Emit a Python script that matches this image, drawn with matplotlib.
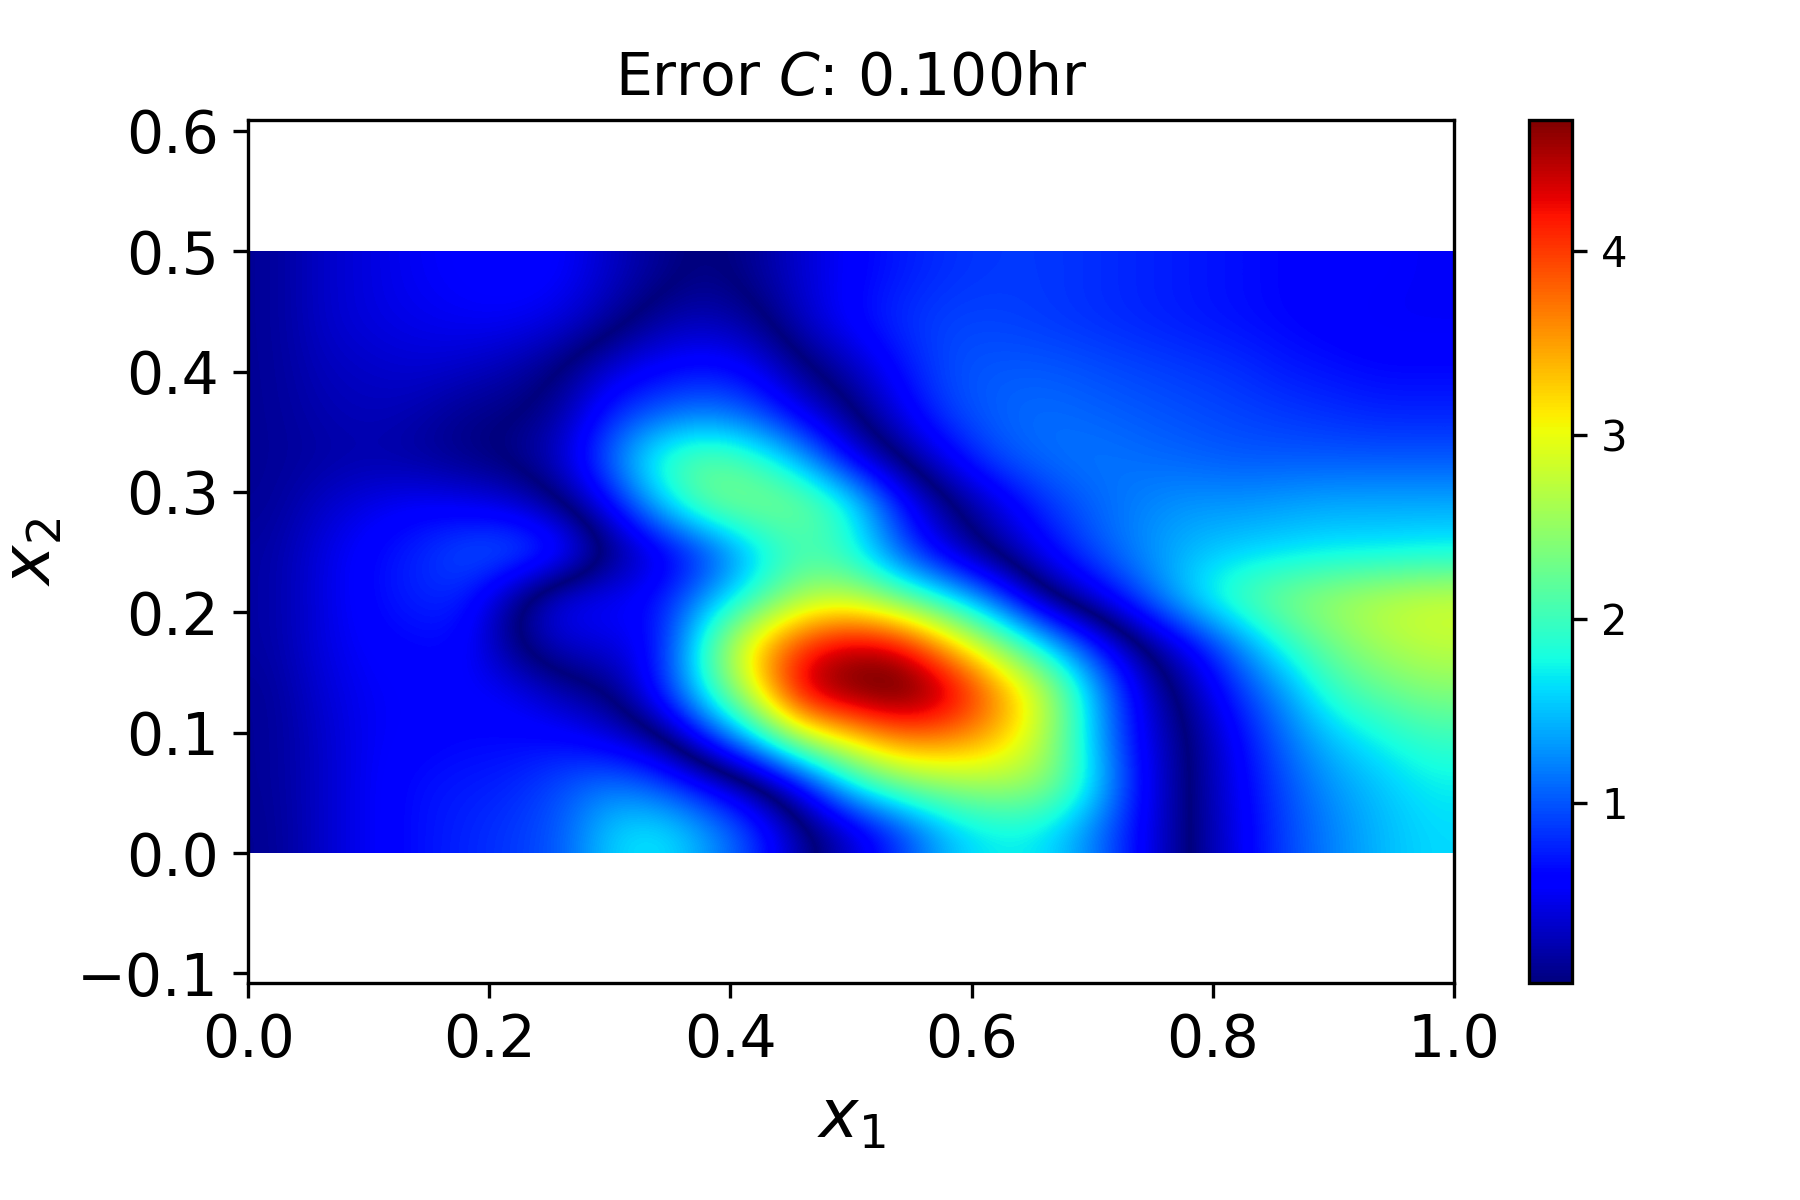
import numpy as np
import matplotlib
matplotlib.use("Agg")
import matplotlib.pyplot as plt
from matplotlib.colors import ListedColormap, Normalize
from matplotlib.cm import ScalarMappable

# signed error (the plotted colour shows its magnitude)
row_481 = [.10,.30,.40,.50,.55,.60,.55,.30,.10,-.05,.10,.35,.55,.70,.80,.85,.85,.80,.75,.70,.65,.60,.55,.55,.50]
row_442 = [.10,.30,.40,.45,.50,.50,.40,.15,-.15,-.25,-.10,.30,.60,.80,.90,.90,.85,.80,.75,.70,.65,.60,.55,.50,.50]
row_404 = [.10,.25,.30,.35,.30,.20,.00,-.35,-.55,-.65,-.50,-.05,.25,.65,.95,1.0,1.0,.95,.90,.85,.80,.70,.65,.60,.60]
row_365 = [.10,.20,.25,.20,.06,.02,-.15,-.75,-1.0,-1.15,-.95,-.45,-.05,.45,.90,1.05,1.10,1.05,1.0,.95,.90,.85,.80,.75,.75]
row_327 = [.10,.15,.18,.12,.03,-.08,-.35,-1.1,-1.95,-2.25,-2.0,-1.4,-.50,0.0,.50,.95,1.10,1.15,1.10,1.05,1.0,1.0,1.0,1.0,1.0]
row_288 = [.10,.30,.45,.55,.50,.40,.05,-.55,-1.45,-2.25,-2.4,-2.35,-1.85,-.75,-.10,.35,.80,1.05,1.20,1.30,1.30,1.35,1.40,1.40,1.40]
row_250 = [.15,.40,.60,.75,1.00,1.10,.85,.05,-.35,-.75,-1.5,-2.0,-1.8,-1.0,-.35,.10,.55,.95,1.25,1.45,1.55,1.60,1.65,1.65,1.70]
row_212 = [.15,.40,.60,.75,.75,.05,-.55,-.55,-.65,-1.3,-1.9,-2.6,-2.7,-2.2,-1.7,-1.0,-.10,.40,.95,1.60,2.10,2.40,2.60,2.75,2.85]
row_173 = [.15,.40,.55,.60,.60,.00,-.35,-.40,-.60,-2.0,-3.3,-4.1,-4.5,-4.35,-3.4,-2.5,-1.6,-.80,-.05,.50,1.15,1.85,2.30,2.60,2.75]
row_135 = [.10,.35,.50,.55,.55,.50,.20,0.0,-.70,-1.8,-3.0,-4.55,-4.85,-5.0,-4.6,-3.7,-2.8,-1.5,-.45,.15,.80,1.30,1.95,2.20,2.40]
row_096 = [.10,.30,.50,.55,.60,.60,.60,.40,.10,-.70,-1.6,-2.7,-3.2,-3.7,-3.7,-3.4,-2.7,-1.5,-.50,0.0,.55,1.10,1.50,1.75,1.95]
row_058 = [.10,.30,.50,.65,.70,.75,.95,1.15,.95,.55,.10,-.60,-1.7,-2.3,-2.5,-2.6,-2.5,-1.7,-.60,0.0,.50,.95,1.30,1.50,1.70]
row_019 = [.08,.30,.50,.65,.75,.85,1.00,1.55,1.70,1.35,.85,.15,-.30,-.80,-1.45,-1.7,-1.65,-1.2,-.55,0.0,.45,.90,1.20,1.45,1.60]
rows_bottom_to_top = [row_019,row_058,row_096,row_135,row_173,row_212,row_250,
                      row_288,row_327,row_365,row_404,row_442,row_481]
color_min, color_max = 0.02, 4.71
x_ticks = [0.0,0.2,0.4,0.6,0.8,1.0]
y_ticks = [-0.1,0.0,0.1,0.2,0.3,0.4,0.5,0.6]
cbar_ticks = [1,2,3,4]

field = np.array(rows_bottom_to_top)
jet = plt.get_cmap('jet')
mirror = ListedColormap(jet(np.abs(np.linspace(-1,1,1024))))

W,H = 1800,1200
L,R,T,B = 248,1454,120,983
fig = plt.figure(figsize=(6,4),dpi=300)
ax = fig.add_axes([L/W,1-B/H,(R-L)/W,(B-T)/H])
ax.imshow(field,origin='lower',extent=(0,1,0,0.5),cmap=mirror,vmin=-color_max,vmax=color_max,
          interpolation='bicubic',interpolation_stage='data',aspect='auto')
ax.set_xlim(0,1); ax.set_ylim(-0.108,0.609)
ax.set_xticks(x_ticks); ax.set_yticks(y_ticks)
ax.tick_params(labelsize=14)
ax.set_xlabel(r'$x_1$',fontsize=16,labelpad=4)
ax.set_ylabel(r'$x_2$',fontsize=16,labelpad=3)
ax.set_title(r'Error $C$: 0.100hr',fontsize=14,pad=6)

cax = fig.add_axes([1529/W,1-B/H,43/W,(B-T)/H])
cb = fig.colorbar(ScalarMappable(Normalize(color_min,color_max),jet),cax=cax)
cb.set_ticks(cbar_ticks)
cb.ax.tick_params(labelsize=10)
fig.savefig('out.png',dpi=300)
